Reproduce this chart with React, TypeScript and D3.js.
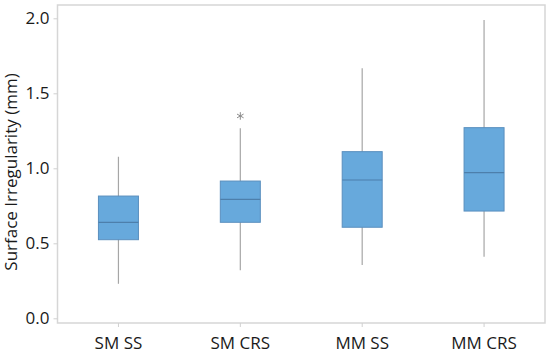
import React, { useEffect, useRef } from 'react';
import * as d3 from 'd3';

// box plot values (mm)
const groups = ["SM SS", "SM CRS", "MM SS", "MM CRS"];
const whiskerLow = [0.23, 0.32, 0.355, 0.41];
const q1 = [0.524, 0.64, 0.607, 0.715];
const median = [0.64, 0.793, 0.922, 0.971];
const q3 = [0.815, 0.915, 1.111, 1.271];
const whiskerHigh = [1.077, 1.267, 1.667, 1.989];
const outliers = [[], [1.349], [], []];
const yTicks = [0, 0.5, 1.0, 1.5, 2.0];

const App: React.FC = () => {
  const svgRef = useRef<SVGSVGElement | null>(null);

  useEffect(() => {
    const width = 550;
    const height = 354;
    const marginTop = 5;
    const marginRight = 5;
    const marginBottom = 31;
    const marginLeft = 57.5;
    const font = "'Open Sans', sans-serif";
    const fontSize = 17;

    const svg = d3.select(svgRef.current);
    svg.selectAll("*").remove();

    const x = d3.scaleBand()
      .domain(groups)
      .range([marginLeft, width - marginRight]);

    // 0 sits a little above the frame bottom
    const y = d3.scaleLinear()
      .domain([0, 2])
      .range([318.3, 18.3]);

    // frame
    svg.append("rect")
      .attr("x", marginLeft)
      .attr("y", marginTop)
      .attr("width", width - marginRight - marginLeft)
      .attr("height", height - marginBottom - marginTop)
      .attr("fill", "none")
      .attr("stroke", "#d6d6d6")
      .attr("stroke-width", 1.5);

    // y axis
    svg.append("g")
      .attr("transform", `translate(${marginLeft},0)`)
      .call(d3.axisLeft(y).tickValues(yTicks).tickFormat(d3.format(".1f")).tickSize(4).tickPadding(4))
      .call(g => g.select(".domain").remove())
      .call(g => g.selectAll("line").attr("stroke", "#d0d0d0"))
      .call(g => g.selectAll("text").attr("font-family", font).attr("font-size", fontSize).attr("fill", "#1a1a1a"));

    // x axis
    svg.append("g")
      .attr("transform", `translate(0,${height - marginBottom})`)
      .call(d3.axisBottom(x).tickSize(4).tickPadding(10))
      .call(g => g.select(".domain").remove())
      .call(g => g.selectAll("line").attr("stroke", "#d0d0d0"))
      .call(g => g.selectAll("text").attr("font-family", font).attr("font-size", fontSize).attr("fill", "#1a1a1a"));

    svg.append("text")
      .attr("transform", `translate(17,172) rotate(-90)`)
      .attr("text-anchor", "middle")
      .attr("font-family", font)
      .attr("font-size", fontSize)
      .attr("fill", "#1a1a1a")
      .text("Surface Irregularity (mm)");

    const boxW = 40;
    const g = svg.append("g")
      .selectAll("g")
      .data(groups)
      .join("g")
      .attr("transform", d => `translate(${x(d)! + x.bandwidth() / 2},0)`);

    g.append("line")
      .attr("y1", (d, i) => y(whiskerLow[i]))
      .attr("y2", (d, i) => y(whiskerHigh[i]))
      .attr("stroke", "#a6a6a6")
      .attr("stroke-width", 1.2);

    g.append("rect")
      .attr("x", -boxW / 2)
      .attr("width", boxW)
      .attr("y", (d, i) => y(q3[i]))
      .attr("height", (d, i) => y(q1[i]) - y(q3[i]))
      .attr("fill", "#67a9dc")
      .attr("stroke", "#5a8fbe")
      .attr("stroke-width", 1);

    g.append("line")
      .attr("x1", -boxW / 2)
      .attr("x2", boxW / 2)
      .attr("y1", (d, i) => y(median[i]))
      .attr("y2", (d, i) => y(median[i]))
      .attr("stroke", "#4d7fab")
      .attr("stroke-width", 1.2);

    g.selectAll("path.outlier")
      .data((d, i) => outliers[i])
      .join("path")
      .attr("class", "outlier")
      .attr("transform", v => `translate(0,${y(v)})`)
      .attr("d", d3.symbol(d3.symbolAsterisk, 40)())
      .attr("fill", "none")
      .attr("stroke", "#8c8c8c")
      .attr("stroke-width", 1);
  }, []);

  return <svg ref={svgRef} width={550} height={354} style={{ position: "absolute", left: 0, top: 0 }}></svg>;
};

export default App;
